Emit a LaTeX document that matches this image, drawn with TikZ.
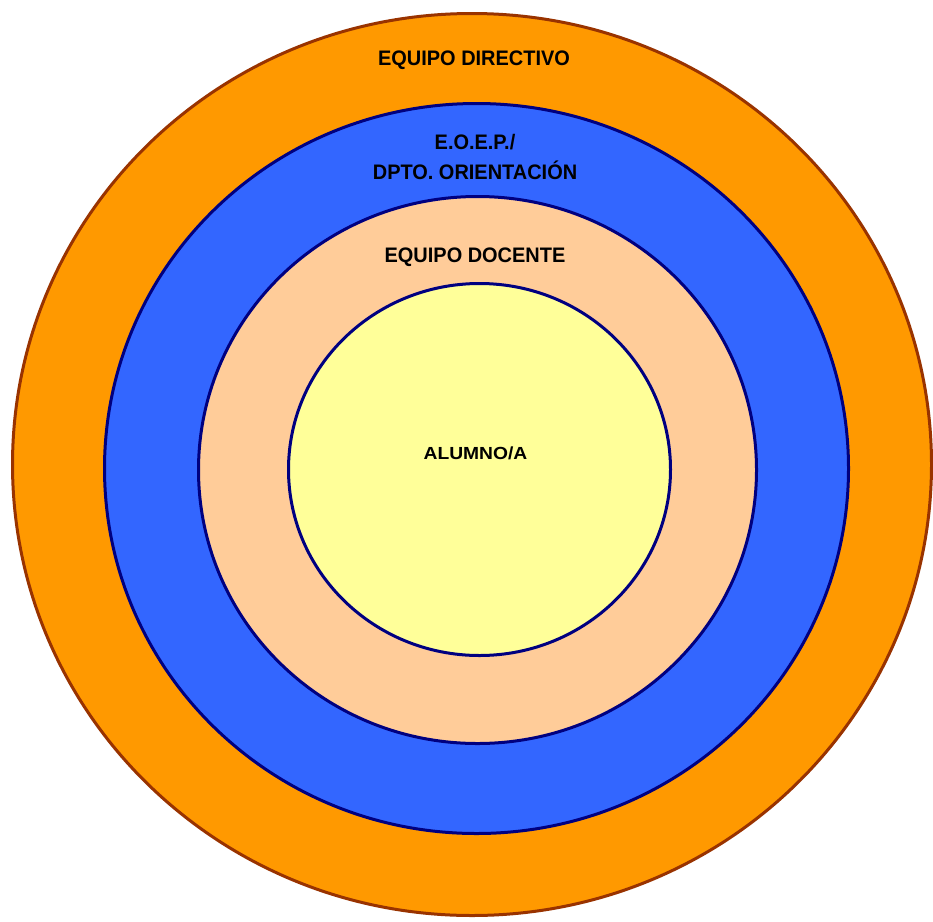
\documentclass[tikz,border=0pt]{standalone}
\usepackage{fontspec}
\setmainfont{Liberation Sans}
\definecolor{orangefill}{HTML}{FF9900}
\definecolor{orangeline}{HTML}{993300}
\definecolor{bluefill}{HTML}{3366FF}
\definecolor{peachfill}{HTML}{FFCC99}
\definecolor{yellowfill}{HTML}{FFFF99}
\definecolor{navyline}{HTML}{000080}
\begin{document}
\begin{tikzpicture}[x=1pt,y=-1pt,
  ring/.style={line width=3pt},
  lbl/.style={inner sep=0pt, text=black, font=\fontsize{21}{28}\selectfont\bfseries, align=center}]
\useasboundingbox (0,0) rectangle (933,921);
\fill[white] (0,0) rectangle (933,921);
% rings
\draw[ring, draw=orangeline, fill=orangefill] (472,464.5) ellipse [x radius=459.5, y radius=451];
\draw[ring, draw=navyline, fill=bluefill] (476.5,468.5) ellipse [x radius=372, y radius=365];
\draw[ring, draw=navyline, fill=peachfill] (477.5,470) ellipse [x radius=279, y radius=273.5];
\draw[ring, draw=navyline, fill=yellowfill] (479.5,469.5) ellipse [x radius=191, y radius=186];
% labels
\node[lbl] (dir) at (474,60) {\scalebox{0.95}[1]{EQUIPO DIRECTIVO}};
\node[lbl] (eoep) at (475,142) {\scalebox{0.95}[1]{E.O.E.P./}};
\node[lbl] (dpto) at (475,170) {\scalebox{0.95}[1]{DPTO. ORIENTACIÓN}};
\node[lbl] (doc) at (475,257) {\scalebox{0.95}[1]{EQUIPO DOCENTE}};
\node[lbl, font=\fontsize{17.5}{20}\selectfont\bfseries] (alu) at (475.5,453) {\scalebox{1.1}[1]{ALUMNO/A}};
\end{tikzpicture}
\end{document}
